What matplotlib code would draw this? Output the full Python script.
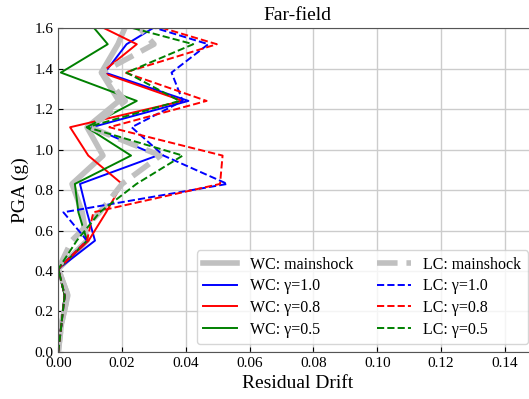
import numpy as np
import matplotlib
matplotlib.use("Agg")
import matplotlib.pyplot as plt

plt.rcParams['font.family'] = ['Liberation Serif', 'DejaVu Serif']
plt.rcParams['mathtext.fontset'] = 'stix'

# PGA levels (g)
pga = [0.0, 0.14, 0.28, 0.41, 0.55, 0.69, 0.83, 0.97, 1.11, 1.24, 1.38, 1.52, 1.66]

# residual drift, whole-cycle (WC) analyses
wc_main = [0.0, 0.001, 0.003, 0.0, 0.009, 0.0075, 0.0043, 0.014, 0.009, 0.019, 0.0135, 0.0187, 0.0225]
wc_10 = [0.0, 0.001, 0.002, 0.0, 0.0115, 0.009, 0.0068, 0.031, 0.0105, 0.0408, 0.0146, 0.0214, 0.036]
wc_08 = [0.0, 0.001, 0.002, 0.0, 0.0095, 0.015, 0.020, 0.0094, 0.0037, 0.039, 0.0136, 0.0246, 0.0065]
wc_05 = [0.0, 0.001, 0.002, 0.0, 0.009, 0.0063, 0.0052, 0.0228, 0.0089, 0.0246, 0.0008, 0.0155, 0.008]

# residual drift, LC analyses
lc_main = [0.0, 0.001, 0.003, 0.0, 0.0042, 0.013, 0.020, 0.032, 0.010, 0.021, 0.0136, 0.030, 0.022]
lc_10 = [0.0, 0.001, 0.002, 0.0, 0.009, 0.0016, 0.053, 0.033, 0.023, 0.039, 0.0355, 0.047, 0.018]
lc_08 = [0.0, 0.001, 0.002, 0.0, 0.009, 0.011, 0.0507, 0.0515, 0.016, 0.0465, 0.0209, 0.0497, 0.020]
lc_05 = [0.0, 0.001, 0.002, 0.0, 0.0058, 0.013, 0.0245, 0.039, 0.009, 0.038, 0.0214, 0.0423, 0.009]

fig = plt.figure(figsize=(5.29, 3.99), dpi=100)
ax = fig.add_axes([0.1102, 0.1178, 0.9045, 0.812])

ax.plot(wc_main, pga, color='#c0c0c0', lw=4, label='WC: mainshock')
ax.plot(wc_10, pga, color='b', lw=1.4, label='WC: γ=1.0')
ax.plot(wc_08, pga, color='r', lw=1.4, label='WC: γ=0.8')
ax.plot(wc_05, pga, color='g', lw=1.4, label='WC: γ=0.5')
ax.plot(lc_main, pga, color='#c0c0c0', lw=4, ls='--', label='LC: mainshock')
ax.plot(lc_10, pga, color='b', lw=1.4, ls='--', label='LC: γ=1.0')
ax.plot(lc_08, pga, color='r', lw=1.4, ls='--', label='LC: γ=0.8')
ax.plot(lc_05, pga, color='g', lw=1.4, ls='--', label='LC: γ=0.5')

ax.set_xlim(0, 0.15)
ax.set_ylim(0, 1.6)
ax.set_xticks(np.arange(0, 0.141, 0.02))
ax.set_yticks(np.arange(0, 1.61, 0.2))
ax.grid(True, color='#cccccc', lw=1)
ax.tick_params(direction='in', labelsize=11)
for s in ax.spines.values():
    s.set_color('#555555')

ax.set_title('Far-field', fontsize=14)
ax.set_xlabel('Residual Drift', fontsize=14)
ax.set_ylabel('PGA (g)', fontsize=14)

ax.legend(loc='lower right', ncol=2, fontsize=11.5, bbox_to_anchor=(0.998, 0.0),
          columnspacing=1.5, handlelength=2.1, labelspacing=0.35)

fig.savefig('out.png', dpi=100)
